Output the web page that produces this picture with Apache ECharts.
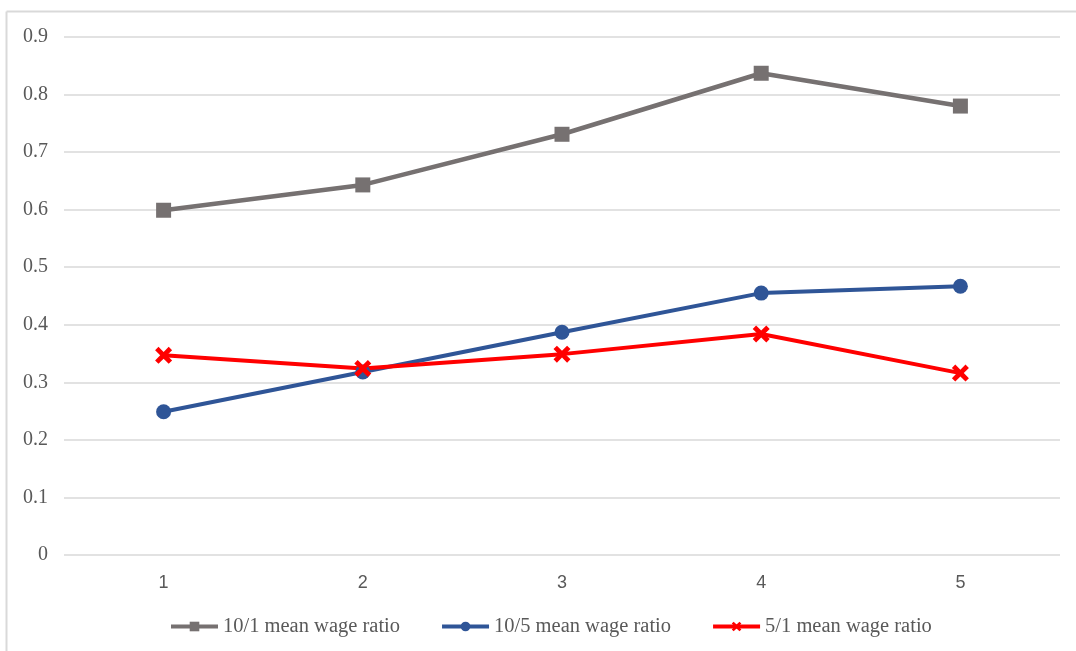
<!DOCTYPE html>
<html>
<head>
<meta charset="utf-8">
<script src="https://cdn.jsdelivr.net/npm/echarts@6/dist/echarts.min.js"></script>
<style>
html,body{margin:0;padding:0;background:#fff;}
#chart{width:1076px;height:651px;}
</style>
</head>
<body>
<div id="chart"></div>
<script>
var categories = ['1', '2', '3', '4', '5'];
var ratio10to1 = [0.599, 0.643, 0.731, 0.837, 0.780];
var ratio10to5 = [0.249, 0.318, 0.387, 0.455, 0.467];
var ratio5to1 = [0.347, 0.324, 0.349, 0.384, 0.316];
var seriesNames = ['10/1 mean wage ratio', '10/5 mean wage ratio', '5/1 mean wage ratio'];
var yTicks = { min: 0, max: 0.9, interval: 0.1 };

var crossPath = 'path://M2,0 L5,3 L8,0 L10,2 L7,5 L10,8 L8,10 L5,7 L2,10 L0,8 L3,5 L0,2 Z';

var chart = echarts.init(document.getElementById('chart'));
chart.setOption({
  animation: false,
  backgroundColor: '#ffffff',
  graphic: [
    { type: 'line', shape: { x1: 6.5, y1: 11.5, x2: 1076, y2: 11.5 }, style: { stroke: '#d9d9d9', lineWidth: 2 } },
    { type: 'line', shape: { x1: 6.5, y1: 11.5, x2: 6.5, y2: 651 }, style: { stroke: '#d9d9d9', lineWidth: 2 } }
  ],
  grid: { left: 64, right: 16, top: 37, bottom: 96, containLabel: false },
  legend: {
    top: 611,
    left: 164,
    itemWidth: 47,
    itemHeight: 12,
    itemGap: 40,
    lineStyle: { width: 4 },
    textStyle: { fontFamily: 'Liberation Serif', fontSize: 20.5, color: '#595959', padding: [0, 0, 0, 0] },
    data: seriesNames
  },
  xAxis: {
    type: 'category',
    data: categories,
    boundaryGap: true,
    axisLine: { show: false },
    axisTick: { show: false },
    axisLabel: { margin: 19, fontFamily: 'Liberation Sans', fontSize: 18, color: '#595959' }
  },
  yAxis: {
    type: 'value',
    min: yTicks.min,
    max: yTicks.max,
    interval: yTicks.interval,
    axisLine: { show: false },
    axisTick: { show: false },
    splitLine: { lineStyle: { color: '#d9d9d9', width: 1.5 } },
    axisLabel: {
      margin: 16,
      fontFamily: 'Liberation Serif',
      fontSize: 20,
      color: '#595959',
      formatter: function (v) { return Math.round(v * 10) / 10 + ''; }
    }
  },
  series: [
    {
      name: seriesNames[0], type: 'line', data: ratio10to1,
      symbol: 'rect', symbolSize: 15,
      lineStyle: { color: '#767171', width: 4.5 },
      itemStyle: { color: '#767171' }
    },
    {
      name: seriesNames[1], type: 'line', data: ratio10to5,
      symbol: 'circle', symbolSize: 15,
      lineStyle: { color: '#2F5597', width: 4 },
      itemStyle: { color: '#2F5597' }
    },
    {
      name: seriesNames[2], type: 'line', data: ratio5to1,
      symbol: crossPath, symbolSize: 17,
      lineStyle: { color: '#FF0000', width: 4 },
      itemStyle: { color: '#FF0000' }
    }
  ]
});
</script>
</body>
</html>
